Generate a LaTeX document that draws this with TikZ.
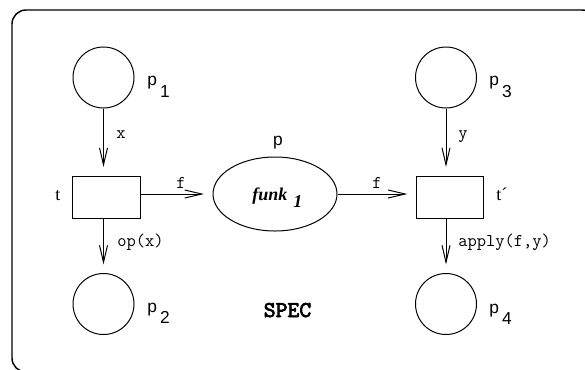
\documentclass[tikz,border=0pt]{standalone}
\usepackage{fontspec}
\setmainfont{Liberation Serif}
\setsansfont{Liberation Sans}
\newfontfamily\specfont{lmmono10-regular.otf}[FakeBold=3]
\usetikzlibrary{arrows.meta,shapes.geometric}
\begin{document}
\begin{tikzpicture}[x=0.75pt,y=-0.75pt,
  place/.style={circle,draw,line width=0.75pt,inner sep=0pt,minimum size=45.75pt},
  trans/.style={rectangle,draw,line width=0.75pt,inner sep=0pt,minimum width=50.5pt,minimum height=31.5pt},
  arc/.style={draw,line width=0.75pt,-{Straight Barb[length=12.75pt,width=6pt,line width=0.75pt]},shorten >=6.4pt},
  lab/.style={inner sep=0pt,anchor=base west},
  plab/.style={lab,font=\sffamily\fontsize{13}{15}\selectfont},
  tlab/.style={lab,font=\rmfamily\fontsize{13.5}{15}\selectfont},
  alab/.style={lab,font=\ttfamily\fontsize{13.5}{15}\selectfont}]
\useasboundingbox (0,0) rectangle (585,369);
\begin{scope}
  \clip (0,0) rectangle (585,369);
  \draw[line width=1.1pt,rounded corners=10.5pt] (12,10) rectangle (596,372);
\end{scope}

% places
\node[place] (p1) at (103.5,77.5) {};
\node[place] (p2) at (103.5,304) {};
\node[place] (p3) at (446,77.5) {};
\node[place] (p4) at (446,304) {};
\node[ellipse,draw,line width=0.75pt,inner sep=0pt,minimum width=93pt,minimum height=55.5pt] (p) at (275,194) {};
% transitions
\node[trans] (t) at (106.5,197) {};
\node[trans] (t2) at (450,197) {};

% arcs
\draw[arc] (p1) -- (p1 |- t.north);
\draw[arc] (t.south -| p1) -- (p2);
\draw[arc] (t.east |- p) -- (p);
\draw[arc] (p) -- (t2.west |- p);
\draw[arc] (p3) -- (p3 |- t2.north);
\draw[arc] (t2.south -| p3) -- (p4);

% place labels
\node[plab] (lp1) at (147,85) {p\kern2.5pt\raisebox{-9pt}{1}};
\node[plab] (lp2) at (147,312) {p\kern2.5pt\raisebox{-8.5pt}{2}};
\node[plab] (lp3) at (489,85) {p\kern2.5pt\raisebox{-9pt}{3}};
\node[plab] (lp4) at (489,313) {p\kern2.5pt\raisebox{-8.5pt}{4}};
\node[plab,anchor=base] (lp) at (278,145) {p};
\node[lab,font=\rmfamily\bfseries\itshape\fontsize{13.5}{16}\selectfont] (funk) at (252,200) {funk\kern4.5pt\raisebox{-5.25pt}{1}};

% transition labels
\node[tlab] (lt) at (55,200) {t};
\node[tlab] (lt2) at (496,200) {t´};

% arc labels
\node[alab] (lx) at (116,138) {x};
\node[alab] (ly) at (458,138) {y};
\node[alab] (lop) at (117,246) {op(x)};
\node[alab] (lapp) at (458,246) {apply(f,y)};
\node[alab,anchor=base] (lf1) at (181,188) {f};
\node[alab,anchor=base] (lf2) at (377,188) {f};

% net name
\node[inner sep=0pt,anchor=base,font=\specfont\fontsize{17}{19}\selectfont] (spec) at (287.5,317) {SPEC};
\end{tikzpicture}
\end{document}
